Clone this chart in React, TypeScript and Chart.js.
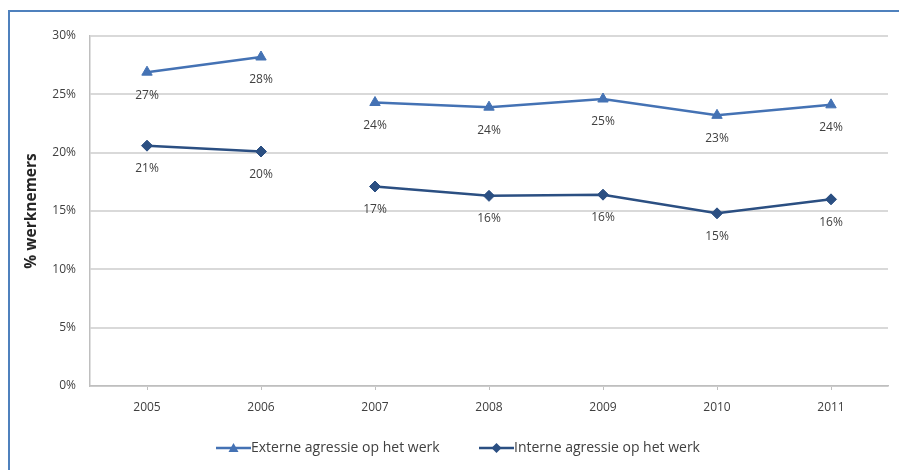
import React, { useEffect, useRef } from "react";
import { Chart, registerables } from "chart.js";

Chart.register(...registerables);

const years = ["2005", "2006", "2007", "2008", "2009", "2010", "2011"];
const externe = [26.9, 28.2, 24.3, 23.9, 24.6, 23.2, 24.1];
const interne = [20.6, 20.1, 17.1, 16.3, 16.4, 14.8, 16.0];
const seriesNames = ["Externe agressie op het werk", "Interne agressie op het werk"];
const yTicks = [0, 5, 10, 15, 20, 25, 30];
const breakAfter = ["2006"]; // no line drawn from this year to the next
const yTitle = "% werknemers";

const colExt = "#4472B4";
const colInt = "#2B4F82";
const FONT = "'Open Sans', 'DejaVu Sans', sans-serif";

const dataLabelPlugin = {
  id: "dataLabels",
  afterDatasetsDraw(chart: any) {
    const ctx = chart.ctx;
    ctx.save();
    ctx.font = `12px ${FONT}`;
    ctx.fillStyle = "#404040";
    ctx.textAlign = "center";
    ctx.textBaseline = "middle";
    chart.data.datasets.forEach((ds: any, i: number) => {
      const meta = chart.getDatasetMeta(i);
      meta.data.forEach((pt: any, j: number) => {
        const v = ds.data[j];
        if (v == null) return;
        ctx.fillText(Math.round(v) + "%", pt.x, pt.y + 23);
      });
    });
    ctx.restore();
  },
};

const legendPlugin = {
  id: "customLegend",
  afterDraw(chart: any) {
    const ctx = chart.ctx;
    ctx.save();
    ctx.font = `14px ${FONT}`;
    ctx.textBaseline = "middle";
    ctx.textAlign = "left";
    const y = 448;
    const starts = [216, 479];
    chart.data.datasets.forEach((ds: any, i: number) => {
      const x0 = starts[i];
      ctx.strokeStyle = ds.borderColor;
      ctx.lineWidth = 2.5;
      ctx.beginPath();
      ctx.moveTo(x0, y);
      ctx.lineTo(x0 + 35, y);
      ctx.stroke();
      const cx = x0 + 17.5;
      ctx.fillStyle = ds.borderColor;
      ctx.beginPath();
      if (ds.pointStyle === "triangle") {
        ctx.moveTo(cx, y - 5);
        ctx.lineTo(cx + 5, y + 4);
        ctx.lineTo(cx - 5, y + 4);
      } else {
        ctx.moveTo(cx, y - 5);
        ctx.lineTo(cx + 5, y);
        ctx.lineTo(cx, y + 5);
        ctx.lineTo(cx - 5, y);
      }
      ctx.closePath();
      ctx.fill();
      ctx.fillStyle = "#404040";
      ctx.fillText(ds.label, x0 + 35, y);
    });
    ctx.restore();
  },
};

export default function App() {
  const ref = useRef<HTMLCanvasElement | null>(null);

  useEffect(() => {
    document.body.style.margin = "0";
    if (!ref.current) return;
    const segStyle = (color: string) => ({
      borderColor: (c: any) => (breakAfter.includes(years[c.p0DataIndex]) ? "rgba(0,0,0,0)" : color),
    });
    const chart = new Chart(ref.current, {
      type: "line",
      data: {
        labels: years,
        datasets: [
          {
            label: seriesNames[0],
            data: externe,
            borderColor: colExt,
            backgroundColor: colExt,
            borderWidth: 2.5,
            pointStyle: "triangle",
            pointRadius: 6,
            pointBorderWidth: 1,
            segment: segStyle(colExt),
          },
          {
            label: seriesNames[1],
            data: interne,
            borderColor: colInt,
            backgroundColor: colInt,
            borderWidth: 2.5,
            pointStyle: "rectRot",
            pointRadius: 5.5,
            pointBorderWidth: 1,
            segment: segStyle(colInt),
          },
        ],
      },
      options: {
        animation: false,
        responsive: false,
        maintainAspectRatio: false,
        layout: { padding: { top: 36, right: 11, bottom: 0, left: 0 } },
        plugins: {
          legend: { display: false },
          tooltip: { enabled: false },
        },
        scales: {
          x: {
            offset: true,
            grid: {
              offset: false,
              drawOnChartArea: false,
              drawTicks: true,
              tickLength: 4,
              color: "#BFBFBF",
            },
            border: { color: "#BFBFBF", width: 1.5 },
            ticks: {
              font: { family: FONT, size: 12 },
              color: "#404040",
              padding: 10,
              maxRotation: 0,
            },
            afterFit(scale: any) {
              scale.height = 84;
            },
          },
          y: {
            min: 0,
            max: 30,
            afterBuildTicks(scale: any) {
              scale.ticks = yTicks.map((v) => ({ value: v }));
            },
            grid: {
              color: "#D9D9D9",
              lineWidth: 2,
              drawTicks: false,
            },
            border: { color: "#BFBFBF", width: 1.5 },
            ticks: {
              font: { family: FONT, size: 12 },
              color: "#404040",
              padding: 14,
              callback: (v: any) => v + "%",
            },
            title: {
              display: true,
              text: yTitle,
              font: { family: FONT, size: 15.5, weight: "bold" },
              color: "#262626",
              padding: { top: 22, bottom: 4 },
            },
            afterFit(scale: any) {
              scale.width = 90;
            },
          },
        },
      },
      plugins: [dataLabelPlugin, legendPlugin],
    });
    return () => chart.destroy();
  }, []);

  return (
    <div style={{ position: "relative", width: 899, height: 470, background: "#fff", overflow: "hidden" }}>
      <canvas ref={ref} width={899} height={470} style={{ position: "absolute", left: 0, top: 0 }} />
      <div
        style={{
          position: "absolute",
          left: 8,
          top: 10,
          width: 899,
          height: 470,
          borderLeft: "2px solid #4F81BD",
          borderTop: "2px solid #4F81BD",
          pointerEvents: "none",
        }}
      />
    </div>
  );
}
